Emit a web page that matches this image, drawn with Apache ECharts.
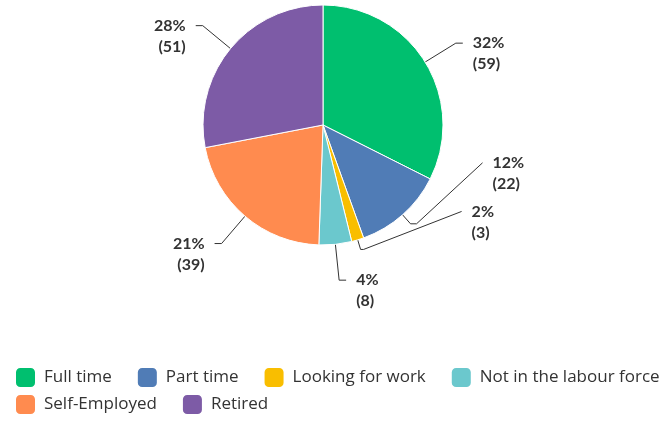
<!DOCTYPE html>
<html>
<head>
<meta charset="utf-8">
<script src="https://cdn.jsdelivr.net/npm/echarts@6/dist/echarts.min.js"></script>
<style>
html,body{margin:0;padding:0;background:#fff;}
#chart{width:664px;height:421px;}
</style>
</head>
<body>
<div id="chart"></div>
<script>
const categories = ['Full time', 'Part time', 'Looking for work', 'Not in the labour force', 'Self-Employed', 'Retired'];
const counts = [59, 22, 3, 8, 39, 51];
const colors = ['#00BF6F', '#507CB6', '#F9BE00', '#6BC8CD', '#FF8B4F', '#7D5BA6'];
const legendRow1 = ['Full time', 'Part time', 'Looking for work', 'Not in the labour force'];
const legendRow2 = ['Self-Employed', 'Retired'];

// label-line styling tweaks for the two crowded small slices (offsets, not data)
const labelTweaks = {
  'Part time': { length: 12, length2: 6, lift: [66, -61] },
  'Looking for work': { length: 10, length2: 3, lift: [98, -38] }
};
const labelGap = 10;

const total = counts.reduce((a, b) => a + b, 0);
const chart = echarts.init(document.getElementById('chart'));

const legendBase = {
  left: 14,
  padding: 0,
  width: 650,
  itemWidth: 21,
  itemHeight: 21,
  itemGap: 24,
  icon: 'roundRect',
  textStyle: { fontFamily: 'Open Sans', fontSize: 17, color: '#333', padding: [0, 0, 0, 3] }
};

chart.setOption({
  animation: false,
  backgroundColor: '#fff',
  color: colors,
  legend: [
    Object.assign({}, legendBase, { top: 366, data: legendRow1 }),
    Object.assign({}, legendBase, { top: 393, data: legendRow2 })
  ],
  series: [{
    type: 'pie',
    center: [323, 125],
    radius: 120,
    startAngle: 90,
    clockwise: true,
    avoidLabelOverlap: false,
    itemStyle: { borderColor: '#fff', borderWidth: 1 },
    label: {
      formatter: p => '\n' + Math.round(p.value / total * 100) + '%\n(' + p.value + ')',
      fontFamily: 'Lato',
      fontWeight: 'bold',
      fontSize: 16,
      lineHeight: 21,
      color: '#333',
      distanceToLabelLine: labelGap
    },
    labelLine: { length: 36, length2: 7, lineStyle: { color: '#333', width: 1 } },
    labelLayout: function (params) {
      const name = categories[params.dataIndex];
      const t = labelTweaks[name];
      if (!t || !params.labelLinePoints) return {};
      const pts = params.labelLinePoints.map(p => [p[0], p[1]]);
      const last = pts[pts.length - 1];
      const end = [last[0] + t.lift[0], last[1] + t.lift[1]];
      pts.push(end);
      return { x: end[0] + labelGap, y: end[1], labelLinePoints: pts };
    },
    data: categories.map((c, i) => {
      const item = { name: c, value: counts[i] };
      if (labelTweaks[c]) item.labelLine = { length: labelTweaks[c].length, length2: labelTweaks[c].length2 };
      return item;
    })
  }]
});
</script>
</body>
</html>
